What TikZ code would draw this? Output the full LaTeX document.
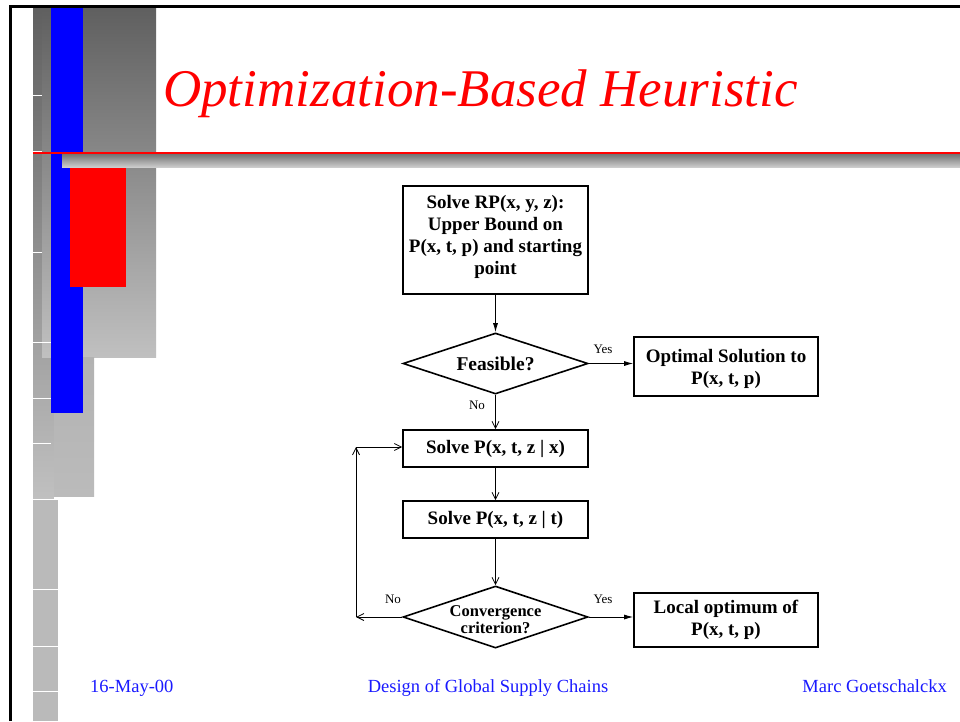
\documentclass[tikz,border=0pt]{standalone}
\usepackage{fontspec}
\setmainfont{Liberation Serif}
\usetikzlibrary{shapes.geometric,arrows.meta}
\definecolor{gtop}{HTML}{5F5F5F}
\definecolor{gbot}{HTML}{C0C0C0}
\definecolor{lgray}{HTML}{BBBBBB}
\definecolor{footblue}{HTML}{1A1AFF}
\begin{document}
\begin{tikzpicture}[x=1pt,y=-1pt,
  boxst/.style={draw, line width=1.6pt, inner sep=0pt, align=center,
    font=\fontsize{19}{22}\selectfont\bfseries},
  diam/.style={draw, diamond, line width=1.6pt, inner sep=0pt,
    minimum width=185, minimum height=61},
  dtext/.style={inner sep=0pt, align=center},
  lab/.style={font=\fontsize{13}{15}\selectfont, inner sep=0pt},
  arrF/.style={line width=0.9pt, -{Latex[length=9pt,width=5pt]}},
  arrO/.style={line width=0.9pt, -{Straight Barb[length=7pt,width=7pt,line width=0.8pt]}},
  foot/.style={font=\fontsize{18.5}{20}\selectfont, text=footblue, inner sep=0pt}
]
\useasboundingbox (0,0) rectangle (960,721);
\fill[white] (0,0) rectangle (960,721);

% ---- left decoration ----
\shade[top color=gtop, bottom color=gbot] (33,6) -| (42,342) -| (54,499) -| (33,6) -- cycle;
\fill[gbot!97!black] (33,499) rectangle (58,721);
\shade[top color=gtop, bottom color=gbot] (42,6) rectangle (156,357);
\shade[top color=lgray!85!gray, bottom color=lgray] (54,357) rectangle (94,496);
\fill[blue] (51,6) rectangle (83,413);
\fill[red] (70,167) rectangle (126,287);
\shade[top color=gray!90!black, bottom color=gray!40] (62,154) rectangle (960,167);
\draw[red, line width=1.5pt] (33,153) -- (960,153);
\foreach \yy/\xr in {95/42,151/42,252/42,342/51,398/51,443/51,499/58,589/58,646/58,691/58}
  \draw[white, line width=0.9pt] (33,\yy) -- (\xr,\yy);
% frame
\draw[black, line width=2.5pt] (10.5,721) -- (10.5,6.5) -- (960,6.5);

% ---- title ----
\node[anchor=base west, inner sep=0pt, text=red, font=\fontsize{53}{60}\selectfont\itshape] (title) at (163,106) {Optimization-Based Heuristic};

% ---- flowchart ----
\node[boxst, minimum width=185, minimum height=108] (b1) at (495.5,240) {};
\node[dtext, font=\fontsize{19}{22}\selectfont\bfseries] (b1t) at (495.5,236.5)
  {Solve RP(x, y, z):\\Upper Bound on\\P(x, t, p) and starting\\point};
\node[diam] (d1) at (495.5,363.5) {};
\node[dtext, font=\fontsize{19.5}{22}\selectfont\bfseries] (d1t) at (d1.center) {Feasible?};
\node[boxst, minimum width=184, minimum height=59] (b2) at (726,366.5) {};
\node[dtext, font=\fontsize{19}{22}\selectfont\bfseries] (b2t) at (726,369)
  {Optimal Solution to\\P(x, t, p)};
\node[boxst, minimum width=185, minimum height=37] (b3) at (495.5,448.5)
  {Solve P(x, t, z | x)};
\node[boxst, minimum width=185, minimum height=37] (b4) at (495.5,519.5)
  {Solve P(x, t, z | t)};
\node[diam, minimum height=62] (d2) at (495.5,617) {};
\node[dtext, font=\fontsize{16.5}{17}\selectfont\bfseries] (d2t) at (495.5,619.5) {Convergence\\criterion?};
\node[boxst, minimum width=184, minimum height=54] (b5) at (726,620)
  {Local optimum of\\P(x, t, p)};

\coordinate (c1) at (356,617);
\coordinate (c2) at (356,447);

\draw[arrF] (b1) -- (d1);
\draw[arrF] (d1.east) -- (d1.east -| b2.west);
\draw[arrO] (d1) -- (b3);
\draw[arrO] (b3) -- (b4);
\draw[arrO] (b4) -- (d2);
\draw[arrF] (d2.east) -- (d2.east -| b5.west);
\draw[arrO] (d2.west) -- (c1);
\draw[arrO] (c1) -- (c2);
\draw[arrO] (c2) -- (c2 -| b3.west);

\node[lab] (y1) at (603,349) {Yes};
\node[lab] (n1) at (477,405) {No};
\node[lab] (n2) at (393,599) {No};
\node[lab] (y2) at (603,599) {Yes};

% ---- footer ----
\node[foot, anchor=base west] (f1) at (90,692) {16-May-00};
\node[foot, anchor=base] (f2) at (488,692) {Design of Global Supply Chains};
\node[foot, anchor=base east] (f3) at (947,692) {Marc Goetschalckx};
\end{tikzpicture}
\end{document}
